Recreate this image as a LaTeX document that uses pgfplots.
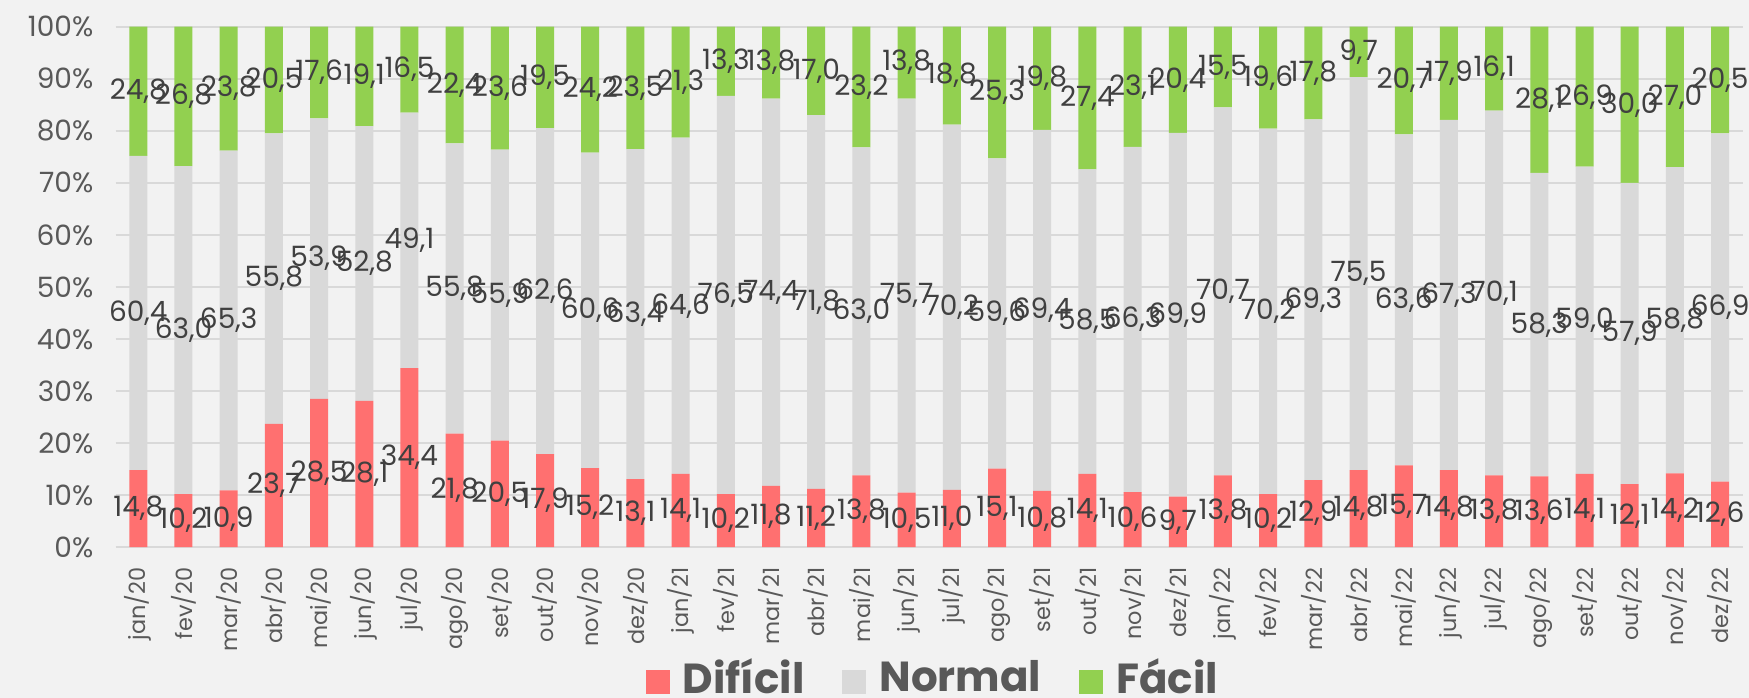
\documentclass[border=0pt]{standalone}
\usepackage{fontspec}
\setmainfont{Poppins}
\usepackage{pgfplots}
\pgfplotsset{compat=1.18}
\usepackage{pgfplotstable}
\usetikzlibrary{backgrounds}

\definecolor{dificil}{HTML}{FF7070}
\definecolor{normal}{HTML}{D9D9D9}
\definecolor{facil}{HTML}{92D050}
\definecolor{fundo}{HTML}{F2F2F2}
\definecolor{grade}{HTML}{D9D9D9}
\definecolor{rotulo}{HTML}{404040}
\definecolor{eixo}{HTML}{595959}

% x = mes (0 = jan/20), d = Difícil, n = Normal, f = Fácil
\pgfplotstableread{
x d n f
0 14.8 60.4 24.8
1 10.2 63.0 26.8
2 10.9 65.3 23.8
3 23.7 55.8 20.5
4 28.5 53.9 17.6
5 28.1 52.8 19.1
6 34.4 49.1 16.5
7 21.8 55.8 22.4
8 20.5 55.9 23.6
9 17.9 62.6 19.5
10 15.2 60.6 24.2
11 13.1 63.4 23.5
12 14.1 64.6 21.3
13 10.2 76.5 13.3
14 11.8 74.4 13.8
15 11.2 71.8 17.0
16 13.8 63.0 23.2
17 10.5 75.7 13.8
18 11.0 70.2 18.8
19 15.1 59.6 25.3
20 10.8 69.4 19.8
21 14.1 58.5 27.4
22 10.6 66.3 23.1
23 9.7 69.9 20.4
24 13.8 70.7 15.5
25 10.2 70.2 19.6
26 12.9 69.3 17.8
27 14.8 75.5 9.7
28 15.7 63.6 20.7
29 14.8 67.3 17.9
30 13.8 70.1 16.1
31 13.6 58.3 28.1
32 14.1 59.0 26.9
33 12.1 57.9 30.0
34 14.2 58.8 27.0
35 12.6 66.9 20.5
}\dados

\pgfplotsset{
  geometria/.style={
    scale only axis,
    width=813.5pt, height=260.25pt,
    xmin=-0.5, xmax=35.5,
    ymin=0, ymax=100,
  },
}

\begin{document}
\begin{tikzpicture}
\begin{axis}[
    geometria,
    ybar stacked, bar width=9pt,
    axis line style={draw=none},
    major tick length=0pt,
    ymajorgrids,
    grid style={grade, line width=1.2pt},
    xtick={0,...,35},
    xticklabels={jan/20,fev/20,mar/20,abr/20,mai/20,jun/20,jul/20,ago/20,set/20,out/20,nov/20,dez/20,
                 jan/21,fev/21,mar/21,abr/21,mai/21,jun/21,jul/21,ago/21,set/21,out/21,nov/21,dez/21,
                 jan/22,fev/22,mar/22,abr/22,mai/22,jun/22,jul/22,ago/22,set/22,out/22,nov/22,dez/22},
    every x tick label/.append style={rotate=90, anchor=east, inner sep=0pt, text=eixo,
                      font=\fontsize{11.2}{13}\selectfont},
    xticklabel shift=10pt,
    ytick={0,10,...,100},
    yticklabel={\pgfmathprintnumber{\tick}\%},
    every y tick label/.append style={anchor=east, inner sep=0pt, text=eixo,
                      font=\fontsize{14}{16}\selectfont},
    yticklabel shift=11pt,
    /pgf/number format/assume math mode=true,
    legend columns=3,
    legend style={at={(0.5016,-0.248)}, anchor=center, draw=none, fill=none,
                  font=\bfseries\fontsize{21}{25}\selectfont, text=eixo,
                  nodes={inner sep=0pt, text depth=0pt},
                  /tikz/every odd column/.style={column sep=6.5pt},
                  /tikz/every even column/.style={column sep=19pt}},
]
\addplot[fill=dificil, draw=none,
    legend image code/.code={\fill[dificil] (0pt,-9pt) rectangle (12pt,3pt);}]
    table[x=x, y=d] {\dados};
\addplot[fill=normal, draw=none,
    legend image code/.code={\fill[normal] (0pt,-9pt) rectangle (12pt,3pt);}]
    table[x=x, y=n] {\dados};
\addplot[fill=facil, draw=none,
    legend image code/.code={\fill[facil] (0pt,-9pt) rectangle (12pt,3pt);}]
    table[x=x, y=f] {\dados};
\legend{Difícil, Normal, Fácil}
\end{axis}

% rótulos no centro de cada segmento
\begin{axis}[
    geometria,
    hide axis,
    point meta=explicit,
    /pgf/number format/assume math mode=true,
    nodes near coords={\pgfmathprintnumber[fixed,fixed zerofill,precision=1,use comma]{\pgfplotspointmeta}},
    every node near coord/.append style={anchor=center, inner sep=0pt, text=rotulo,
                      font=\fontsize{14}{16}\selectfont},
]
\addplot[draw=none, mark=none] table[x=x, y expr=\thisrow{d}/2, meta=d] {\dados};
\addplot[draw=none, mark=none] table[x=x, y expr=\thisrow{d}+\thisrow{n}/2, meta=n] {\dados};
\addplot[draw=none, mark=none] table[x=x, y expr=\thisrow{d}+\thisrow{n}+\thisrow{f}/2, meta=f] {\dados};
\end{axis}

\begin{scope}[on background layer]
\fill[fundo] (-57.85pt,-75.25pt) rectangle (816.65pt,273.6pt);
\end{scope}
\pgfresetboundingbox
\path[use as bounding box] (-57.85pt,-75.25pt) rectangle (816.65pt,273.6pt);
\end{tikzpicture}
\end{document}
